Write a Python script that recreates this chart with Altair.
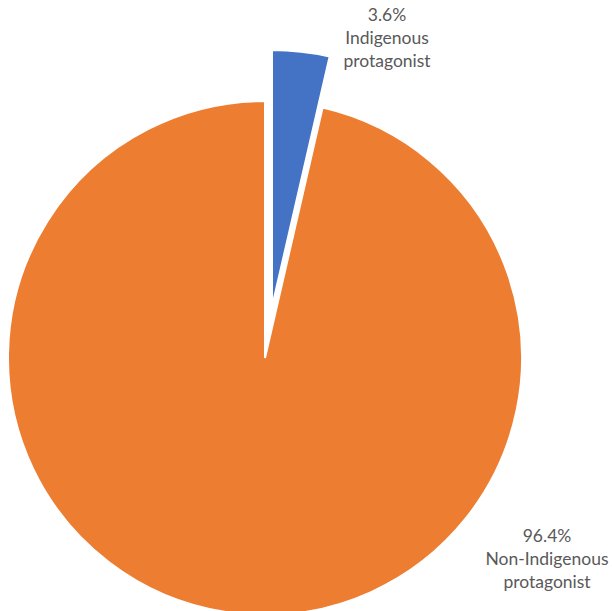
import altair as alt
import pandas as pd

categories = ["Indigenous protagonist", "Non-Indigenous protagonist"]
shares = [3.6, 96.4]
label_lines = ["3.6%\nIndigenous\nprotagonist", "96.4%\nNon-Indigenous\nprotagonist"]
colors = ["#4472C4", "#ED7D31"]

df = pd.DataFrame({"category": categories, "share": shares, "order": [0, 1], "label": label_lines})

CX, CY, R = 265, 358, 257
EXPLODE = (7, -51)

base = alt.Chart(df)
theta = alt.Theta("share:Q", stack=True)
color = alt.Color("category:N", scale=alt.Scale(domain=categories, range=colors), legend=None)
order = alt.Order("order:Q")

main = base.mark_arc(radius=R, stroke="white", strokeWidth=2).encode(
    theta=theta, color=color, order=order,
    opacity=alt.condition(alt.datum.category == categories[1], alt.value(1), alt.value(0)),
    x=alt.value(CX), y=alt.value(CY),
)
exploded = base.mark_arc(radius=R, stroke="white", strokeWidth=2).encode(
    theta=theta, color=color, order=order,
    opacity=alt.condition(alt.datum.category == categories[0], alt.value(1), alt.value(0)),
    x=alt.value(CX + EXPLODE[0]), y=alt.value(CY + EXPLODE[1]),
)

def label(i, x, y):
    return alt.Chart(df.iloc[[i]]).mark_text(
        font="Lato", fontSize=17.5, color="#595959", lineBreak="\n", lineHeight=23,
        align="center", baseline="middle",
    ).encode(text="label:N", x=alt.value(x), y=alt.value(y))

chart = alt.layer(main, exploded, label(0, 387, 16), label(1, 547, 537)).properties(
    width=612, height=611, padding=0, autosize=alt.AutoSizeParams(type="none")
).configure_view(stroke=None)

chart.save("out.html", embed_options={"renderer": "svg", "actions": False})
